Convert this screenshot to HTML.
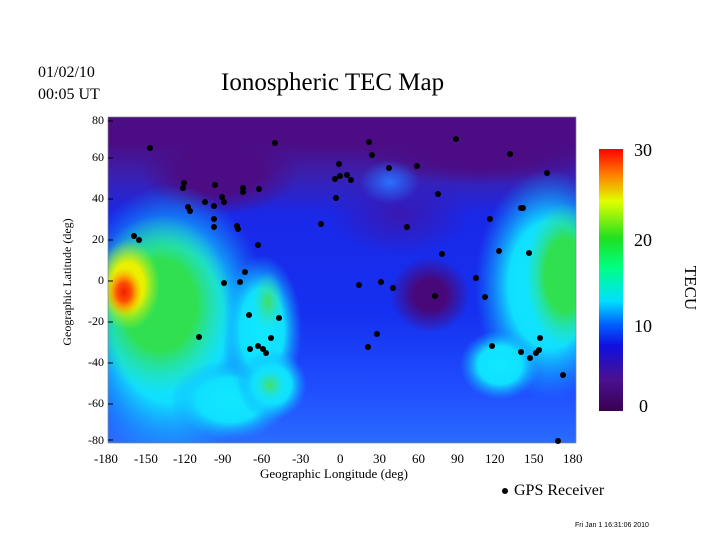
<!DOCTYPE html>
<html><head><style>
body{margin:0;background:#fff;width:720px;height:540px;overflow:hidden;font-family:"Liberation Serif",serif;}
.t{position:absolute;white-space:nowrap;color:#000}
</style></head><body>
<svg width="720" height="540" style="position:absolute;left:0;top:0">
<defs>
<clipPath id="c"><rect x="108" y="117" width="468" height="326"/></clipPath>
<radialGradient id="gp"><stop offset="0" stop-color="#4c0c84"/><stop offset="0.5" stop-color="#4c0c84"/><stop offset="1" stop-color="#4c0c84" stop-opacity="0"/></radialGradient>
<radialGradient id="gd"><stop offset="0" stop-color="#48087a"/><stop offset="0.4" stop-color="#48087a"/><stop offset="1" stop-color="#48087a" stop-opacity="0"/></radialGradient>
<radialGradient id="gv"><stop offset="0" stop-color="#3a18b0"/><stop offset="1" stop-color="#3a18b0" stop-opacity="0"/></radialGradient>
<radialGradient id="gc"><stop offset="0" stop-color="#10e8ff"/><stop offset="0.55" stop-color="#10e0ff"/><stop offset="1" stop-color="#10a0ff" stop-opacity="0"/></radialGradient>
<radialGradient id="gl"><stop offset="0" stop-color="#2a70ff"/><stop offset="1" stop-color="#2a70ff" stop-opacity="0"/></radialGradient>
<radialGradient id="gg"><stop offset="0" stop-color="#30e050"/><stop offset="0.5" stop-color="#30e050"/><stop offset="1" stop-color="#30e0a0" stop-opacity="0"/></radialGradient>
<radialGradient id="gs"><stop offset="0" stop-color="#40e060"/><stop offset="1" stop-color="#30e0c0" stop-opacity="0"/></radialGradient>
<radialGradient id="gy"><stop offset="0" stop-color="#f0f000"/><stop offset="0.5" stop-color="#e8f000"/><stop offset="1" stop-color="#b0f020" stop-opacity="0"/></radialGradient>
<radialGradient id="go"><stop offset="0" stop-color="#f02000"/><stop offset="0.4" stop-color="#ff5000"/><stop offset="1" stop-color="#ffa000" stop-opacity="0"/></radialGradient>
<linearGradient id="cb" x1="0" y1="1" x2="0" y2="0">
<stop offset="0" stop-color="#3a0050"/><stop offset="0.12" stop-color="#4a1090"/><stop offset="0.25" stop-color="#1010e0"/><stop offset="0.33" stop-color="#0060ff"/><stop offset="0.42" stop-color="#00e0ff"/><stop offset="0.55" stop-color="#00ff80"/><stop offset="0.66" stop-color="#20e020"/><stop offset="0.8" stop-color="#e0ff00"/><stop offset="0.9" stop-color="#ff8000"/><stop offset="1" stop-color="#ff0000"/>
</linearGradient>
<linearGradient id="bg" x1="0" y1="0" x2="0" y2="1">
<stop offset="0" stop-color="#4c0c84"/><stop offset="0.08" stop-color="#4c0c84"/><stop offset="0.18" stop-color="#3a20b0"/><stop offset="0.3" stop-color="#1a28e8"/><stop offset="0.6" stop-color="#1530f0"/><stop offset="0.85" stop-color="#2050ff"/><stop offset="1" stop-color="#2a6cff"/>
</linearGradient>
</defs>
<g clip-path="url(#c)">
<rect x="108" y="117" width="468" height="326" fill="url(#bg)"/>
<ellipse cx="220" cy="170" rx="80" ry="45" fill="url(#gp)"/>
<ellipse cx="480" cy="150" rx="120" ry="35" fill="url(#gp)"/>
<ellipse cx="340" cy="130" rx="80" ry="25" fill="url(#gp)"/>
<ellipse cx="430" cy="295" rx="40" ry="38" fill="url(#gd)"/>
<ellipse cx="400" cy="215" rx="70" ry="40" fill="url(#gv)"/>
<ellipse cx="170" cy="325" rx="100" ry="140" fill="url(#gc)"/>
<ellipse cx="230" cy="400" rx="60" ry="40" fill="url(#gc)"/>
<ellipse cx="262" cy="330" rx="40" ry="75" fill="url(#gc)"/>
<ellipse cx="272" cy="385" rx="35" ry="35" fill="url(#gc)"/>
<ellipse cx="550" cy="285" rx="75" ry="115" fill="url(#gc)"/>
<ellipse cx="500" cy="365" rx="40" ry="35" fill="url(#gc)"/>
<ellipse cx="390" cy="182" rx="30" ry="22" fill="url(#gl)"/>
<ellipse cx="160" cy="305" rx="72" ry="90" fill="url(#gg)"/>
<ellipse cx="268" cy="302" rx="16" ry="30" fill="url(#gs)"/>
<ellipse cx="270" cy="385" rx="16" ry="16" fill="url(#gs)"/>
<ellipse cx="565" cy="275" rx="40" ry="72" fill="url(#gg)"/>
<ellipse cx="128" cy="285" rx="32" ry="45" fill="url(#gy)"/>
<ellipse cx="124" cy="292" rx="18" ry="24" fill="url(#go)"/>
</g>
<rect x="108" y="117" width="468" height="326" fill="none" stroke="#888" stroke-width="0.7"/>
<g stroke="#000" stroke-width="1">
<line x1="108" y1="121" x2="113" y2="121"/><line x1="108" y1="158" x2="113" y2="158"/><line x1="108" y1="199" x2="113" y2="199"/><line x1="108" y1="240" x2="113" y2="240"/><line x1="108" y1="281" x2="113" y2="281"/><line x1="108" y1="322" x2="113" y2="322"/><line x1="108" y1="363" x2="113" y2="363"/><line x1="108" y1="404" x2="113" y2="404"/><line x1="108" y1="440" x2="113" y2="440"/>
</g>
<g fill="#000">
<circle cx="150" cy="148" r="3"/><circle cx="275" cy="143" r="3"/><circle cx="184" cy="183" r="3"/><circle cx="183" cy="188" r="3"/><circle cx="215" cy="185" r="3"/><circle cx="188" cy="207" r="3"/><circle cx="190" cy="211" r="3"/><circle cx="205" cy="202" r="3"/><circle cx="214" cy="206" r="3"/><circle cx="222" cy="197" r="3"/><circle cx="224" cy="202" r="3"/><circle cx="243" cy="188" r="3"/><circle cx="243" cy="192" r="3"/><circle cx="259" cy="189" r="3"/><circle cx="214" cy="219" r="3"/><circle cx="214" cy="227" r="3"/><circle cx="237" cy="226" r="3"/><circle cx="238" cy="229" r="3"/><circle cx="258" cy="245" r="3"/><circle cx="245" cy="272" r="3"/><circle cx="240" cy="282" r="3"/><circle cx="224" cy="283" r="3"/><circle cx="249" cy="315" r="3"/><circle cx="250" cy="349" r="3"/><circle cx="258" cy="346" r="3"/><circle cx="263" cy="349" r="3"/><circle cx="266" cy="353" r="3"/><circle cx="271" cy="338" r="3"/><circle cx="279" cy="318" r="3"/><circle cx="134" cy="236" r="3"/><circle cx="139" cy="240" r="3"/><circle cx="199" cy="337" r="3"/><circle cx="339" cy="164" r="3"/><circle cx="335" cy="179" r="3"/><circle cx="340" cy="176" r="3"/><circle cx="347" cy="175" r="3"/><circle cx="351" cy="180" r="3"/><circle cx="336" cy="198" r="3"/><circle cx="369" cy="142" r="3"/><circle cx="372" cy="155" r="3"/><circle cx="389" cy="168" r="3"/><circle cx="417" cy="166" r="3"/><circle cx="438" cy="194" r="3"/><circle cx="456" cy="139" r="3"/><circle cx="510" cy="154" r="3"/><circle cx="547" cy="173" r="3"/><circle cx="321" cy="224" r="3"/><circle cx="407" cy="227" r="3"/><circle cx="442" cy="254" r="3"/><circle cx="359" cy="285" r="3"/><circle cx="381" cy="282" r="3"/><circle cx="393" cy="288" r="3"/><circle cx="435" cy="296" r="3"/><circle cx="377" cy="334" r="3"/><circle cx="368" cy="347" r="3"/><circle cx="476" cy="278" r="3"/><circle cx="485" cy="297" r="3"/><circle cx="499" cy="251" r="3"/><circle cx="490" cy="219" r="3"/><circle cx="521" cy="208" r="3"/><circle cx="523" cy="208" r="3"/><circle cx="529" cy="253" r="3"/><circle cx="492" cy="346" r="3"/><circle cx="521" cy="352" r="3"/><circle cx="530" cy="358" r="3"/><circle cx="536" cy="353" r="3"/><circle cx="539" cy="350" r="3"/><circle cx="540" cy="338" r="3"/><circle cx="563" cy="375" r="3"/><circle cx="558" cy="441" r="3"/>
<circle cx="505" cy="491" r="3"/>
</g>
<rect x="599" y="149" width="24" height="262" fill="url(#cb)"/>
<text x="693" y="280" font-family="Liberation Serif" font-size="17" transform="rotate(90 685 280)" text-anchor="middle">TECU</text>
<text x="71" y="282" font-family="Liberation Serif" font-size="12" transform="rotate(-90 71 282)" text-anchor="middle">Geographic Latitude (deg)</text>
</svg>
<div class="t" style="left:38px;top:64px;font-size:16px">01/02/10</div>
<div class="t" style="left:38px;top:86px;font-size:16px">00:05 UT</div>
<div class="t" style="left:221px;top:69px;font-size:25px">Ionospheric TEC Map</div>
<div style="position:absolute;left:80px;top:114px;font-size:12px;line-height:12px;text-align:right;width:24px">
<div style="position:absolute;right:0;top:0">80</div><div style="position:absolute;right:0;top:37px">60</div><div style="position:absolute;right:0;top:78px">40</div><div style="position:absolute;right:0;top:119px">20</div><div style="position:absolute;right:0;top:160px">0</div><div style="position:absolute;right:0;top:201px">-20</div><div style="position:absolute;right:0;top:242px">-40</div><div style="position:absolute;right:0;top:283px">-60</div><div style="position:absolute;right:0;top:320px">-80</div>
</div>
<div style="position:absolute;top:451px;left:0;font-size:13px">
<span class="t" style="left:94px">-180</span><span class="t" style="left:134px">-150</span><span class="t" style="left:173px">-120</span><span class="t" style="left:214px">-90</span><span class="t" style="left:253px">-60</span><span class="t" style="left:292px">-30</span><span class="t" style="left:337px">0</span><span class="t" style="left:373px">30</span><span class="t" style="left:412px">60</span><span class="t" style="left:451px">90</span><span class="t" style="left:485px">120</span><span class="t" style="left:524px">150</span><span class="t" style="left:563px">180</span>
</div>
<div class="t" style="left:260px;top:466px;font-size:13px">Geographic Longitude (deg)</div>
<div class="t" style="left:634px;top:140px;font-size:18px">30</div>
<div class="t" style="left:634px;top:230px;font-size:18px">20</div>
<div class="t" style="left:634px;top:316px;font-size:18px">10</div>
<div class="t" style="left:639px;top:396px;font-size:18px">0</div>
<div class="t" style="left:514px;top:482px;font-size:16px">GPS Receiver</div>
<div class="t" style="left:575px;top:522px;font-size:7px;font-family:'Liberation Sans',sans-serif">Fri Jan  1 16:31:06 2010</div>
</body></html>
